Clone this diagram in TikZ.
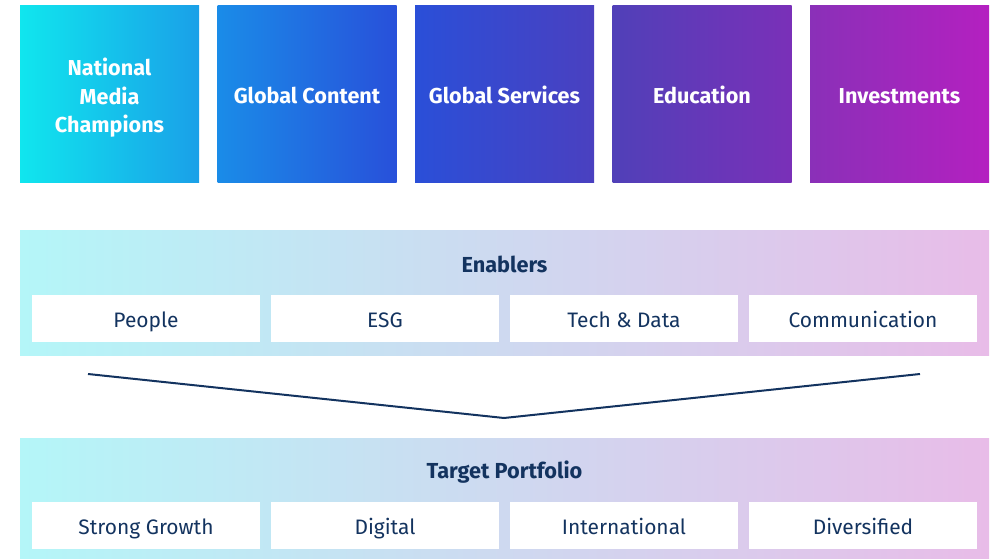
\documentclass[tikz,border=0pt]{standalone}
\usepackage{fontspec}
\setmainfont{Fira Sans}
\newdimen\pxu \pxu=0.75pt
\definecolor{navy}{HTML}{13335F}
\definecolor{pl}{HTML}{B4F6F8}
\definecolor{pm}{HTML}{C0C8F0}
\definecolor{pr}{HTML}{E8BCE8}
\definecolor{aA}{HTML}{10E6EE}\definecolor{aB}{HTML}{1AA0E8}
\definecolor{bA}{HTML}{1A8CE8}\definecolor{bB}{HTML}{2850DA}
\definecolor{cA}{HTML}{2A4FD8}\definecolor{cB}{HTML}{4A40C0}
\definecolor{dA}{HTML}{5040B8}\definecolor{dB}{HTML}{7A30B8}
\definecolor{eA}{HTML}{8A30B8}\definecolor{eB}{HTML}{B420C0}
\tikzset{
  topbox/.style={minimum width=179\pxu, minimum height=177\pxu, inner sep=0pt, text=white,
    font=\bfseries\fontsize{16.2}{21.2}\selectfont, align=center, text height=14.2pt, text depth=0pt},
  panel/.style={minimum width=969\pxu, inner sep=0pt, left color=pl, middle color=pm, right color=pr},
  wbox/.style={fill=white, minimum width=228\pxu, minimum height=47\pxu, inner sep=0pt,
    text=navy, font=\fontsize{15.7}{18}\selectfont, text height=14.2pt, text depth=0pt},
  ttl/.style={text=navy, font=\bfseries\fontsize{16.3}{18}\selectfont, inner sep=0pt,
    text height=12.4pt, text depth=0pt},
  vline/.style={draw=navy, line width=1.5pt}
}
\begin{document}
\begin{tikzpicture}[x=0.75pt, y=-0.75pt]
\useasboundingbox (0,0) rectangle (995,559);
% top row
\node[topbox, left color=aA, right color=aB, text height=56.8pt, text depth=0pt] (nmc) at (109.5,94.5) {National\\Media\\Champions};
\node[topbox, left color=bA, right color=bB] (gc) at (307,94.5) {Global Content};
\node[topbox, left color=cA, right color=cB] (gs) at (504.5,94.5) {Global Services};
\node[topbox, left color=dA, right color=dB] (edu) at (702,94.5) {Education};
\node[topbox, left color=eA, right color=eB] (inv) at (899.5,94.5) {Investments};
% enablers panel
\node[panel, minimum height=124\pxu] (enp) at (504.5,293) {};
\node[ttl] (ent) at (504.5,264) {Enablers};
\node[wbox] (peo) at (146,318.5) {People};
\node[wbox] (esg) at (385,318.5) {ESG};
\node[wbox] (tec) at (624,318.5) {Tech \& Data};
\node[wbox] (com) at (863,318.5) {Communication};
% funnel line
\coordinate (la) at (88,374);
\coordinate (lb) at (504,418);
\coordinate (lc) at (920,374);
\draw[vline] (la) -- (lb) -- (lc);
% target panel
\node[panel, minimum height=124\pxu] (tpp) at (504.5,500) {};
\node[ttl] (tpt) at (504.5,470) {Target Portfolio};
\node[wbox] (sg) at (146,525.5) {Strong Growth};
\node[wbox] (dig) at (385,525.5) {Digital};
\node[wbox] (int) at (624,525.5) {International};
\node[wbox] (div) at (863,525.5) {Diversified};
\end{tikzpicture}
\end{document}
